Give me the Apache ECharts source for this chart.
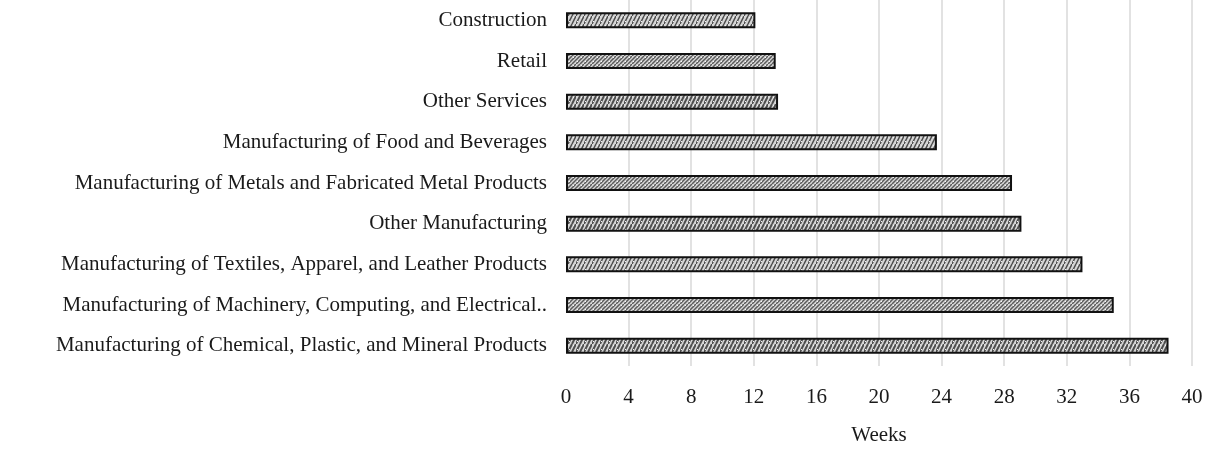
<!DOCTYPE html>
<html>
<head>
<meta charset="utf-8">
<style>
  html, body { margin: 0; padding: 0; background: #fff; }
  #chart { width: 1216px; height: 451px; }
</style>
<script src="https://cdn.jsdelivr.net/npm/echarts@6/dist/echarts.min.js"></script>
</head>
<body>
<div id="chart"></div>
<script>
// categories, top to bottom
var categories = [
  'Construction',
  'Retail',
  'Other Services',
  'Manufacturing of Food and Beverages',
  'Manufacturing of Metals and Fabricated Metal Products',
  'Other Manufacturing',
  'Manufacturing of Textiles, Apparel, and Leather Products',
  'Manufacturing of Machinery, Computing, and Electrical..',
  'Manufacturing of Chemical, Plastic, and Mineral Products'
];
var weeks = [12.1, 13.4, 13.55, 23.7, 28.5, 29.1, 33.0, 35.0, 38.5];
var xTicks = [0, 4, 8, 12, 16, 20, 24, 28, 32, 36, 40];

// small hatch textures, a few variants like the original fills
function makeTexture(variant) {
  var c = document.createElement('canvas');
  c.width = 8; c.height = 8;
  var g = c.getContext('2d');
  g.fillStyle = '#d6d6d6';
  g.fillRect(0, 0, 8, 8);
  g.strokeStyle = variant === 1 ? '#5a5a5a' : '#4e4e4e';
  g.lineWidth = variant === 2 ? 2 : 1.5;
  g.beginPath();
  if (variant === 1) {
    g.moveTo(0, 8); g.lineTo(8, 0);
    g.moveTo(-4, 8); g.lineTo(4, 0);
    g.moveTo(4, 8); g.lineTo(12, 0);
  } else {
    g.moveTo(0, 8); g.lineTo(4, 0);
    g.moveTo(4, 8); g.lineTo(8, 0);
  }
  g.stroke();
  g.fillStyle = '#f2f2f2';
  g.fillRect(1, 5, 1, 1);
  g.fillRect(5, 1, 1, 1);
  return c;
}
var textures = [makeTexture(0), makeTexture(1), makeTexture(2)];

var myChart = echarts.init(document.getElementById('chart'));

var font = '"Liberation Serif", "DejaVu Serif", serif';

var option = {
  animation: false,
  textStyle: { fontFamily: font },
  grid: {
    left: 566,
    right: 24,
    top: -1,
    bottom: 77
  },
  xAxis: {
    type: 'value',
    min: xTicks[0],
    max: xTicks[xTicks.length - 1],
    interval: 4,
    name: 'Weeks',
    nameLocation: 'middle',
    nameGap: 59,
    nameTextStyle: { color: '#1a1a1a', fontSize: 21, fontFamily: font },
    axisLine: { show: false },
    axisTick: { show: false },
    axisLabel: { color: '#1a1a1a', fontSize: 21, margin: 21, fontFamily: font },
    splitLine: { show: true, showMinLine: false, lineStyle: { color: '#d9d9d9', width: 1.5 } }
  },
  yAxis: {
    type: 'category',
    inverse: true,
    data: categories,
    axisLine: { show: false },
    axisTick: { show: false },
    axisLabel: { color: '#1a1a1a', fontSize: 21, margin: 19, fontFamily: font }
  },
  series: [{
    type: 'bar',
    barWidth: 16,
    data: weeks.map(function (v, i) {
      return {
        value: v,
        itemStyle: {
          color: { image: textures[i % 3], repeat: 'repeat' },
          borderColor: '#111',
          borderWidth: 2
        }
      };
    })
  }]
};

myChart.setOption(option);
</script>
</body>
</html>
